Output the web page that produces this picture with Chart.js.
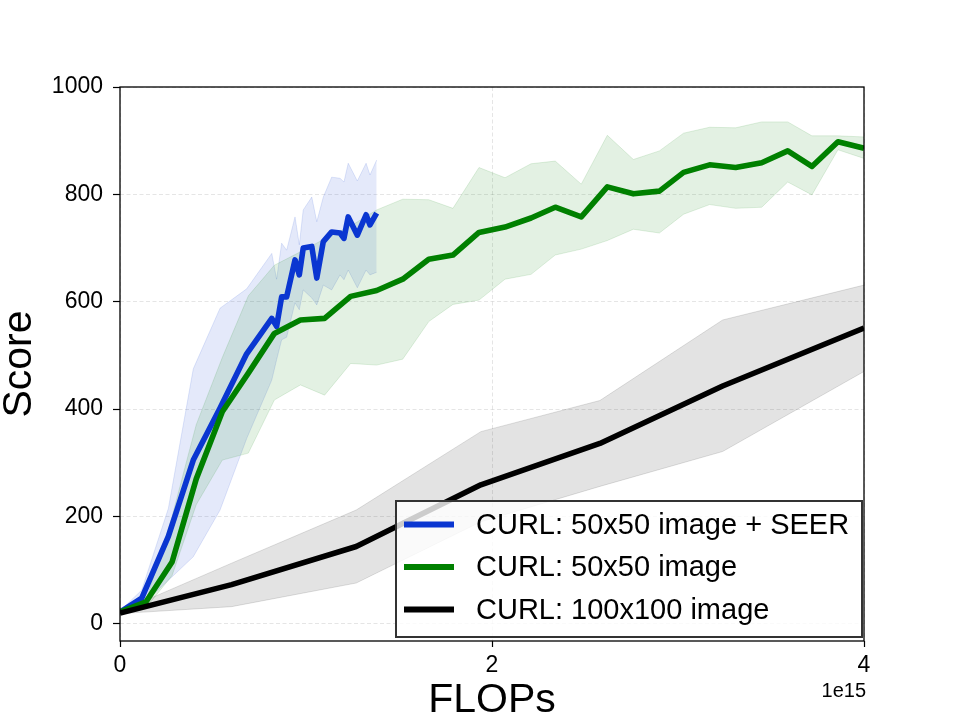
<!DOCTYPE html>
<html>
<head>
<meta charset="utf-8">
<script src="https://cdn.jsdelivr.net/npm/chart.js@4.4.1/dist/chart.umd.min.js"></script>
<style>
  html, body { margin: 0; padding: 0; background: #fff; }
  #wrap { width: 960px; height: 720px; }
</style>
</head>
<body>
<div id="wrap"><canvas id="myChart" width="960" height="720"></canvas></div>
<script>
// x values are FLOPs in units of 1e15
const seerFlops = [0, 0.117, 0.26, 0.394, 0.538, 0.681, 0.816, 0.842, 0.869, 0.896, 0.941, 0.964,
                   0.985, 1.031, 1.058, 1.093, 1.138, 1.183, 1.204, 1.227, 1.276, 1.323, 1.344, 1.38];
const seerMean  = [22, 48, 163, 305, 402, 503, 569, 554, 609, 609, 678, 650, 700, 703, 644, 712, 730, 728, 718, 758, 724, 762, 743, 765];
const seerHigh  = [24, 63, 215, 475, 588, 624, 690, 642, 709, 696, 758, 706, 771, 795, 749, 795, 832, 830, 823, 858, 825, 858, 836, 864];
const seerLow   = [20, 35, 81, 125, 212, 345, 454, 492, 529, 534, 598, 585, 622, 607, 594, 631, 622, 650, 641, 659, 626, 659, 650, 655];

const img50Flops = [0, 0.14, 0.28, 0.41, 0.55, 0.69, 0.83, 0.97, 1.10, 1.24, 1.38, 1.52, 1.66, 1.79, 1.93,
                    2.07, 2.21, 2.34, 2.48, 2.62, 2.76, 2.90, 3.03, 3.17, 3.31, 3.45, 3.59, 3.72, 3.86, 4.0];
const img50Mean = [22, 41, 115, 270, 395, 467, 541, 566, 569, 610, 621, 642, 679, 687, 729,
                   739, 756, 776, 758, 814, 801, 806, 841, 855, 850, 859, 881, 852, 898, 886];
const img50High = [22, 43, 200, 371, 496, 611, 668, 693, 717, 741, 771, 791, 790, 774, 850,
                   831, 857, 862, 819, 910, 865, 881, 914, 925, 924, 935, 935, 909, 909, 907];
const img50Low  = [20, 30, 90, 222, 305, 318, 417, 445, 426, 485, 482, 493, 563, 595, 603,
                   642, 651, 687, 698, 714, 735, 728, 763, 781, 774, 776, 823, 799, 883, 867];

const img100Flops = [0, 0.6, 1.27, 1.94, 2.58, 3.24, 4.0];
const img100Mean  = [20, 73, 144, 259, 336, 443, 551];
const img100High  = [23, 113, 212, 358, 416, 566, 631];
const img100Low   = [19, 32, 76, 190, 256, 321, 470];

const xTicks = [0, 2, 4];
const yTicks = [0, 200, 400, 600, 800, 1000];

const FONT = "'Liberation Sans', Arial, sans-serif";

function pts(xs, ys) {
    return xs.map((x, i) => ({ x: x, y: ys[i] }));
}

function bandSets(xs, hi, lo, rgb, order) {
    return [
        {
            label: '',
            data: pts(xs, hi),
            borderColor: 'rgba(' + rgb + ',0.12)',
            backgroundColor: 'rgba(' + rgb + ',0.11)',
            borderWidth: 1,
            pointRadius: 0,
            fill: '+1',
            order: order
        }, {
            label: '',
            data: pts(xs, lo),
            borderColor: 'rgba(' + rgb + ',0.12)',
            borderWidth: 1,
            pointRadius: 0,
            fill: false,
            order: order
        }
    ];
}

function lineSet(label, xs, ys, color, order) {
    return {
        label: label,
        data: pts(xs, ys),
        borderColor: color,
        borderWidth: 5.6,
        borderJoinStyle: 'round',
        pointRadius: 0,
        fill: false,
        order: order
    };
}

const datasets = [
    ...bandSets(seerFlops, seerHigh, seerLow, '10,54,209', 12),
    ...bandSets(img50Flops, img50High, img50Low, '0,128,0', 11),
    ...bandSets(img100Flops, img100High, img100Low, '0,0,0', 10),
    lineSet('CURL: 50x50 image + SEER', seerFlops, seerMean, '#0a36d1', 2),
    lineSet('CURL: 50x50 image', img50Flops, img50Mean, '#008000', 1),
    lineSet('CURL: 100x100 image', img100Flops, img100Mean, '#000000', 0)
];

// frame, offset text "1e15" and legend box
const decorations = {
    id: 'decorations',
    afterDatasetsDraw(chart) {
        const { ctx, chartArea: a } = chart;
        ctx.save();
        ctx.strokeStyle = '#000';
        ctx.lineWidth = 1.3;
        ctx.strokeRect(a.left, a.top, a.right - a.left, a.bottom - a.top);
        ctx.restore();
    },
    afterDraw(chart) {
        const { ctx, chartArea: a } = chart;
        ctx.save();
        ctx.fillStyle = '#000';
        ctx.font = '20px ' + FONT;
        ctx.textAlign = 'right';
        ctx.textBaseline = 'middle';
        ctx.fillText('1e15', a.right + 2, 691);

        // legend
        const items = chart.data.datasets.filter(d => d.label);
        const bx = 396, by = 501, bw = 466, bh = 136;
        ctx.fillStyle = 'rgba(255,255,255,0.8)';
        ctx.fillRect(bx, by, bw, bh);
        ctx.strokeStyle = '#333';
        ctx.lineWidth = 2;
        ctx.strokeRect(bx, by, bw, bh);
        ctx.font = '29px ' + FONT;
        ctx.textAlign = 'left';
        items.forEach((d, i) => {
            const y = 524.5 + i * 42.5;
            ctx.strokeStyle = d.borderColor;
            ctx.lineWidth = 6;
            ctx.beginPath();
            ctx.moveTo(404, y);
            ctx.lineTo(454, y);
            ctx.stroke();
            ctx.fillStyle = '#000';
            ctx.fillText(d.label, 476, y + 1);
        });
        ctx.restore();
    }
};

const config = {
    type: 'line',
    data: { datasets: datasets },
    options: {
        responsive: false,
        animation: false,
        devicePixelRatio: 1,
        layout: { padding: { top: 87, right: 96, left: 0, bottom: 0 } },
        elements: { line: { tension: 0 } },
        plugins: {
            legend: { display: false },
            tooltip: { enabled: false },
            title: { display: false }
        },
        scales: {
            x: {
                type: 'linear',
                min: 0,
                max: 4,
                afterBuildTicks: s => { s.ticks = xTicks.map(v => ({ value: v })); },
                afterFit: s => { s.height = 79; },
                ticks: {
                    color: '#000',
                    font: { family: FONT, size: 23 },
                    padding: 5,
                    maxRotation: 0,
                    autoSkip: false,
                    callback: v => String(v)
                },
                grid: {
                    color: 'rgba(0,0,0,0.13)',
                    lineWidth: 0.8,
                    tickColor: '#000',
                    tickLength: 6,
                    tickWidth: 1.2,
                    tickBorderDash: []
                },
                border: { display: false, dash: [4, 2.5] },
                title: {
                    display: true,
                    text: 'FLOPs',
                    color: '#000',
                    font: { family: FONT, size: 41, lineHeight: 0.9 },
                    padding: { top: 0, bottom: 1 }
                }
            },
            y: {
                type: 'linear',
                min: -32,
                max: 1000,
                afterBuildTicks: s => { s.ticks = yTicks.map(v => ({ value: v })); },
                afterFit: s => { s.width = 120; },
                ticks: {
                    color: '#000',
                    font: { family: FONT, size: 23 },
                    padding: 10,
                    autoSkip: false,
                    callback: v => String(v)
                },
                grid: {
                    color: 'rgba(0,0,0,0.13)',
                    lineWidth: 0.8,
                    tickColor: '#000',
                    tickLength: 7,
                    tickWidth: 1.2,
                    tickBorderDash: []
                },
                border: { display: false, dash: [4, 2.5] },
                title: {
                    display: true,
                    text: 'Score',
                    color: '#000',
                    font: { family: FONT, size: 41, lineHeight: 0.9 },
                    padding: { top: 1, bottom: 0 }
                }
            }
        }
    },
    plugins: [decorations]
};

const ctx = document.getElementById('myChart').getContext('2d');
new Chart(ctx, config);
</script>
</body>
</html>
